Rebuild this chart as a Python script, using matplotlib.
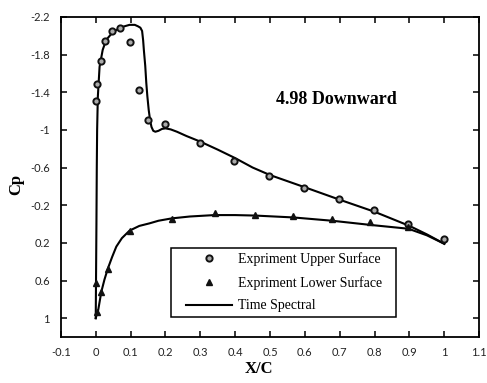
import numpy as np
import matplotlib.pyplot as plt
from matplotlib.patches import Rectangle

# experiment, upper surface (circles)
up_x = [0.0, 0.005, 0.016, 0.027, 0.047, 0.071, 0.098, 0.123, 0.149, 0.198,
        0.299, 0.398, 0.497, 0.598, 0.697, 0.797, 0.897, 0.998]
up_cp = [-1.31, -1.485, -1.73, -1.94, -2.05, -2.08, -1.93, -1.42, -1.11, -1.06,
         -0.86, -0.67, -0.513, -0.38, -0.265, -0.149, -0.003, 0.16]

# experiment, lower surface (triangles)
lo_x = [0.0, 0.005, 0.016, 0.035, 0.097, 0.218, 0.341, 0.457, 0.567, 0.678,
        0.788, 0.897]
lo_cp = [0.63, 0.93, 0.727, 0.48, 0.07, -0.056, -0.113, -0.098, -0.084, -0.049,
         -0.018, 0.032]

# time spectral, upper branch
ts_up_x = [0.0, 0.001, 0.002, 0.003, 0.004, 0.006, 0.011, 0.02, 0.03, 0.045,
           0.059, 0.078, 0.097, 0.112, 0.121, 0.128, 0.133, 0.136, 0.138, 0.142,
           0.145, 0.148, 0.152, 0.156, 0.16, 0.165, 0.171, 0.18, 0.19, 0.2,
           0.215, 0.233, 0.26, 0.3, 0.35, 0.4, 0.45, 0.5, 0.6, 0.7, 0.8, 0.9,
           0.95, 1.0]
ts_up_cp = [1.0, 0.5, 0.0, -0.6, -1.0, -1.35, -1.67, -1.85, -1.955, -2.02,
            -2.06, -2.095, -2.115, -2.115, -2.10, -2.085, -2.05, -1.95, -1.85, -1.68,
            -1.50, -1.36, -1.21, -1.10, -1.03, -0.99, -0.98, -0.99, -1.01, -1.016,
            -1.005, -0.98, -0.935, -0.875, -0.79, -0.70, -0.60, -0.52, -0.39, -0.258,
            -0.13, 0.02, 0.11, 0.21]

# time spectral, lower branch
ts_lo_x = [0.0, 0.003, 0.007, 0.016, 0.025, 0.035, 0.047, 0.059, 0.075, 0.097,
           0.125, 0.154, 0.18, 0.218, 0.27, 0.34, 0.4, 0.457, 0.567, 0.678,
           0.792, 0.897, 0.95, 1.0]
ts_lo_cp = [1.0, 0.96, 0.915, 0.72, 0.59, 0.47, 0.35, 0.24, 0.15, 0.07,
            0.02, -0.007, -0.035, -0.06, -0.08, -0.095, -0.095, -0.09, -0.07, -0.035,
            0.011, 0.05, 0.12, 0.21]

xticks = np.round(np.arange(-0.1, 1.11, 0.1), 1)
yticks = np.round(np.arange(-2.2, 1.01, 0.4), 1)

fig = plt.figure(figsize=(4.87, 3.83), dpi=100)
ax = fig.add_axes([0.125, 0.120, 0.859, 0.836])

ax.plot(ts_up_x, ts_up_cp, "k-", lw=1.5, label="Time Spectral")
ax.plot(ts_lo_x, ts_lo_cp, "k-", lw=1.5)
ax.plot(up_x, up_cp, "o", ms=4.5, mfc="#aaaaaa", mec="#111111", mew=1.4,
        ls="none", label="Expriment Upper Surface")
ax.plot(lo_x, lo_cp, "^", ms=5, mfc="#111111", mec="#111111",
        ls="none", label="Expriment Lower Surface")

ax.set_xlim(-0.1, 1.1)
ax.set_ylim(1.2, -2.2)
ax.set_xticks(xticks)
ax.set_yticks(yticks)
ax.set_xticklabels(["%g" % v for v in xticks], fontsize=8, family="Lato", color="#222222")
ax.set_yticklabels(["%g" % v for v in yticks], fontsize=8, family="Lato", color="#222222")
ax.tick_params(direction="in", length=4, width=1.1, top=True, right=True)
ax.tick_params(axis="y", pad=8)
ax.tick_params(axis="x", pad=7)
for s in ax.spines.values():
    s.set_linewidth(1.3)

ax.set_xlabel("X/C", family="Liberation Serif", fontweight="bold", fontsize=12, va="center")
ax.set_ylabel("Cp", family="Liberation Serif", fontweight="bold", fontsize=12, va="center")
ax.xaxis.set_label_coords(0.474, -0.1)
ax.yaxis.set_label_coords(-0.107, 0.475)

ax.text(0.69, -1.32, "4.98 Downward", family="Liberation Serif", fontweight="bold",
        fontsize=13, ha="center", va="center")

# legend box drawn separately so the padding can match
ax.add_patch(Rectangle((0.264, 0.0625), 0.538, 0.216, transform=ax.transAxes,
                       fill=True, facecolor="white", edgecolor="black", lw=1.1, zorder=4))
h, l = ax.get_legend_handles_labels()
order = [1, 2, 0]
leg = ax.legend([h[i] for i in order], [l[i] for i in order],
                loc="center left", bbox_to_anchor=(0.3, 0.0625 + 0.108),
                prop={"family": "Liberation Serif", "size": 10},
                frameon=False, borderpad=0, borderaxespad=0,
                handlelength=3.3, handletextpad=0.45, labelspacing=0.7)
leg.set_zorder(5)

fig.savefig("out.png", dpi=100)
